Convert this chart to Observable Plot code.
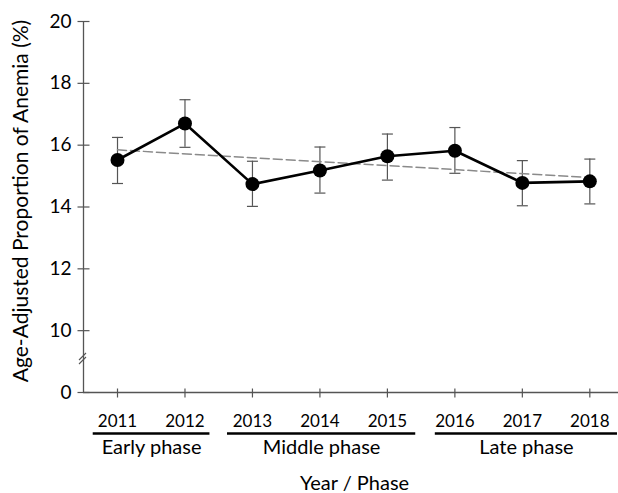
<!DOCTYPE html>
<html><head><meta charset="utf-8">
<script src="https://cdn.jsdelivr.net/npm/d3@7"></script>
<script src="https://cdn.jsdelivr.net/npm/@observablehq/plot@0.6"></script>
<style>body{margin:0;background:#fff} svg{display:block}</style>
</head><body><div id="chart"></div>
<script>
// ---- data ----
const years = [2011, 2012, 2013, 2014, 2015, 2016, 2017, 2018];
const values = [15.52, 16.70, 14.74, 15.18, 15.64, 15.82, 14.78, 14.83];
const lower  = [14.76, 15.93, 14.02, 14.45, 14.87, 15.09, 14.04, 14.10];
const upper  = [16.25, 17.47, 15.48, 15.94, 16.36, 16.57, 15.50, 15.55];
const yTicks = [8, 10, 12, 14, 16, 18, 20];
const yTickLabels = ["0", "10", "12", "14", "16", "18", "20"];
const phaseNames = ["Early phase", "Middle phase", "Late phase"];
const phaseStart = [2010.64, 2012.63, 2015.71];
const phaseEnd   = [2012.37, 2015.42, 2018.41];
const yLabel = "Age-Adjusted Proportion of Anemia (%)";
const xLabel = "Year / Phase";

const data = years.map((year, i) => ({year, value: values[i], lo: lower[i], hi: upper[i]}));
const phases = phaseNames.map((name, i) => ({name, start: phaseStart[i], end: phaseEnd[i]}));
const xDomain = [2010.496, 2018.425];
const base = yTicks[0];
const hcap = {draw(ctx, size) { const w = Math.sqrt(size / Math.PI); ctx.moveTo(-w, 0); ctx.lineTo(w, 0); }};
const vcap = {draw(ctx, size) { const w = Math.sqrt(size / Math.PI); ctx.moveTo(0, -w); ctx.lineTo(0, w); }};
// axis-break glyph: two short parallel diagonal strokes
const brk = {draw(ctx, size) { const w = Math.sqrt(size / Math.PI);
  ctx.moveTo(-w, w - 2); ctx.lineTo(w, -w - 2); ctx.moveTo(-w, w + 2); ctx.lineTo(w, -w + 2); }};
const axisColor = "#555";

const chart = Plot.plot({
  width: 618, height: 493,
  marginLeft: 83, marginRight: 0, marginTop: 21, marginBottom: 101,
  style: {fontFamily: "Lato, sans-serif", background: "#fff", color: "#000", overflow: "visible"},
  x: {type: "linear", domain: xDomain, axis: null},
  y: {domain: [8, 20], axis: null},
  marks: [
    Plot.ruleX([xDomain[0]], {stroke: axisColor, strokeWidth: 1.3}),
    Plot.ruleY([base], {stroke: axisColor, strokeWidth: 1.3}),
    Plot.dot(yTicks, {y: d => d, frameAnchor: "left", symbol: hcap, r: 6, stroke: axisColor, strokeWidth: 1.2}),
    Plot.text(yTicks, {y: d => d, frameAnchor: "left", dx: -12, textAnchor: "end", text: (d, i) => yTickLabels[i], fontSize: 19, fill: "#000"}),
    Plot.dot(years, {x: d => d, frameAnchor: "bottom", dy: 0.5, symbol: vcap, r: 4.5, stroke: axisColor, strokeWidth: 1.2}),
    Plot.text(years, {x: d => d, frameAnchor: "bottom", dy: 34, text: d => String(d), fontSize: 17, fill: "#000"}),
    Plot.dot([base], {frameAnchor: "left", y: () => 9.1, dx: -1, symbol: brk, r: 3.5, stroke: axisColor, strokeWidth: 1.1}),
    Plot.ruleX(data, {x: "year", y1: "lo", y2: "hi", stroke: axisColor, strokeWidth: 1.2}),
    Plot.dot(data, {x: "year", y: "lo", symbol: hcap, r: 5.5, stroke: axisColor, strokeWidth: 1.2}),
    Plot.dot(data, {x: "year", y: "hi", symbol: hcap, r: 5.5, stroke: axisColor, strokeWidth: 1.2}),
    Plot.linearRegressionY(data, {x: "year", y: "value", ci: 0, stroke: "#8a8a8a", strokeWidth: 1.5, strokeDasharray: "9,4"}),
    Plot.line(data, {x: "year", y: "value", stroke: "#000", strokeWidth: 2.6}),
    Plot.dot(data, {x: "year", y: "value", r: 7, fill: "#000"}),
    Plot.ruleY(phases, {x1: "start", x2: "end", y: () => base, dy: 41, stroke: "#000", strokeWidth: 2.6}),
    Plot.text(phases, {x: d => (d.start + d.end) / 2, y: () => base, dy: 55, text: "name", fontSize: 20, fill: "#000"}),
    Plot.text([xLabel], {frameAnchor: "bottom", dx: 3.5, dy: 97, fontSize: 20, fill: "#000"}),
    Plot.text([yLabel], {frameAnchor: "left", textAnchor: "middle", rotate: -90, dx: -62, dy: -6, fontSize: 21, fill: "#000"})
  ]
});
document.getElementById("chart").append(chart);
</script>
</body></html>
